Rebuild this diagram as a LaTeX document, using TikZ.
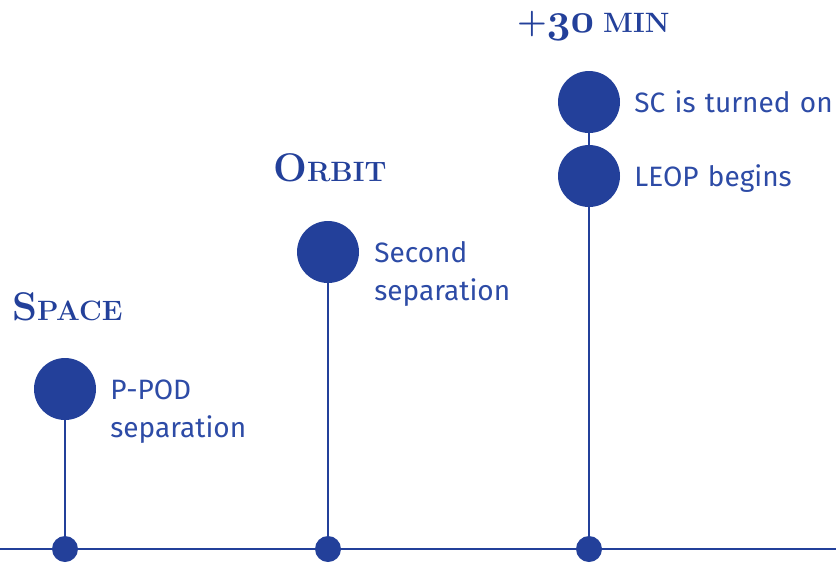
\documentclass[tikz,border=0pt]{standalone}
\usepackage{fontspec}
\usepackage{graphicx}
\newfontfamily\eventfont{Fira Sans}
\usetikzlibrary{positioning}
\definecolor{esablue}{HTML}{23409A}
\definecolor{esatext}{HTML}{2D4BA6}
\newcommand{\phasecaps}[2]{{\bfseries\fontsize{40}{40}\selectfont\addfontfeatures{FakeBold=1.2}#1}{\bfseries\fontsize{28}{28}\selectfont\addfontfeatures{FakeBold=1.2}#2}}
\newcommand{\oldnum}[1]{\scalebox{1.65}{\fontencoding{OML}\fontfamily{cmm}\fontseries{b}\fontshape{it}\fontsize{24.88}{25}\selectfont #1}}

\begin{document}
\begin{tikzpicture}
        [
            x=1pt, y=-1pt,
            event/.style = {circle, fill=esablue, inner sep=0pt, minimum size=62pt},
            tick/.style = {circle, fill=esablue, inner sep=0pt, minimum size=26pt},
            event text/.style = {text=esatext, font=\eventfont\fontsize{28}{38.5}\selectfont, text width=10cm, align=left, inner sep=0pt},
            phase/.style = {text=esablue, font=\bfseries, inner sep=0pt, anchor=base west},
            timeline/.style = {draw=esablue, line width=2.2pt},
            node distance=14pt
        ]%
        \useasboundingbox (0,0) rectangle (836,563);
        \coordinate (start) at (0,549);
        \coordinate (end) at (836,549);
        \draw[timeline] (start) -- (end);
        \node[tick] (t1) at (65,549) {};
        \node[tick] (t2) at (328,549) {};
        \node[tick] (t3) at (589,549) {};
        \node[event] (pod) at (65,389) {};
        \node[event] (orbit) at (328,252) {};
        \node[event] (leop) at (589,176) {};
        \node[event] (scon) at (589,102) {};
        \draw[timeline] (t1) -- (pod);
        \draw[timeline] (t2) -- (orbit);
        \draw[timeline] (t3) -- (leop);
        \draw[timeline] (leop) -- (scon);
        \node [event text, right=14pt of pod, anchor=base west, yshift=-10pt] (podtext) {P-POD\\separation};
        \node [event text, right=15pt of orbit, anchor=base west, yshift=-10pt] (orbittext) {Second\\separation};
        \node [event text, right=14pt of leop, anchor=base west, yshift=-10pt] (leoptext) {LEOP begins};
        \node [event text, right=14pt of scon, anchor=base west, yshift=-10pt] (scontext) {SC is turned on};
        \node[phase] (space) at (12,320) {\phasecaps{S}{PACE}};
        \node[phase] (orbitname) at (273,181) {\phasecaps{O}{RBIT}};
        \node[phase] (plusmin) at (517,32) {{\bfseries\fontsize{34}{34}\selectfont +}\oldnum{30}\hspace{9pt}{\bfseries\fontsize{28}{28}\selectfont\addfontfeatures{FakeBold=1.2}MIN}};
\end{tikzpicture}
\end{document}
